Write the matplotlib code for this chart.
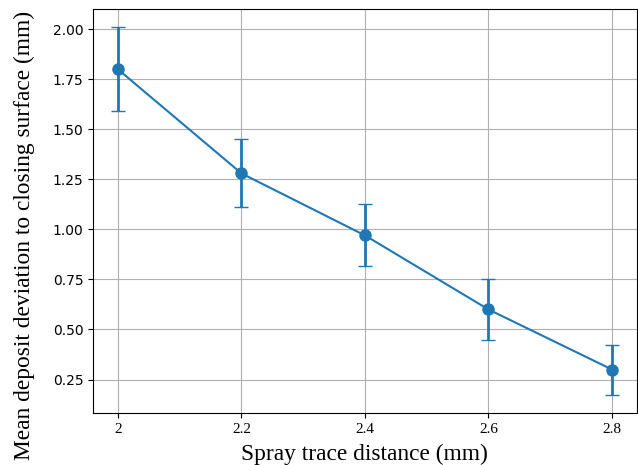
import numpy as np
import matplotlib
matplotlib.use('Agg')
import matplotlib.pyplot as plt

distances = [2.0, 2.2, 2.4, 2.6, 2.8]
tick_labels = ['2', '2.2', '2.4', '2.6', '2.8']
mean_dev = [1.80, 1.28, 0.97, 0.60, 0.30]
std_dev = [0.21, 0.17, 0.155, 0.15, 0.125]

fig = plt.figure(figsize=(6.38, 4.65), dpi=100)
ax = fig.add_axes([0.146, 0.112, 0.852, 0.869])

ax.errorbar(distances, mean_dev, yerr=std_dev, fmt='-o', color='#1f77b4',
            capsize=5, markersize=8, linewidth=1.5, elinewidth=2)

ax.set_xticks(distances)
ax.set_xticklabels(tick_labels, fontfamily='Liberation Serif', fontsize=11)
ax.set_yticks([0.25, 0.5, 0.75, 1.0, 1.25, 1.5, 1.75, 2.0])
ax.tick_params(axis='y', labelsize=10)
ax.set_xlabel('Spray trace distance (mm)', fontfamily='Liberation Serif', fontsize=16.8,
              labelpad=6)
ax.set_ylabel('Mean deposit deviation to closing surface (mm)',
              fontfamily='Liberation Serif', fontsize=16.8)
ax.yaxis.set_label_coords(-0.107, 0.438)
ax.grid(True)

fig.savefig('out.png', dpi=100)
